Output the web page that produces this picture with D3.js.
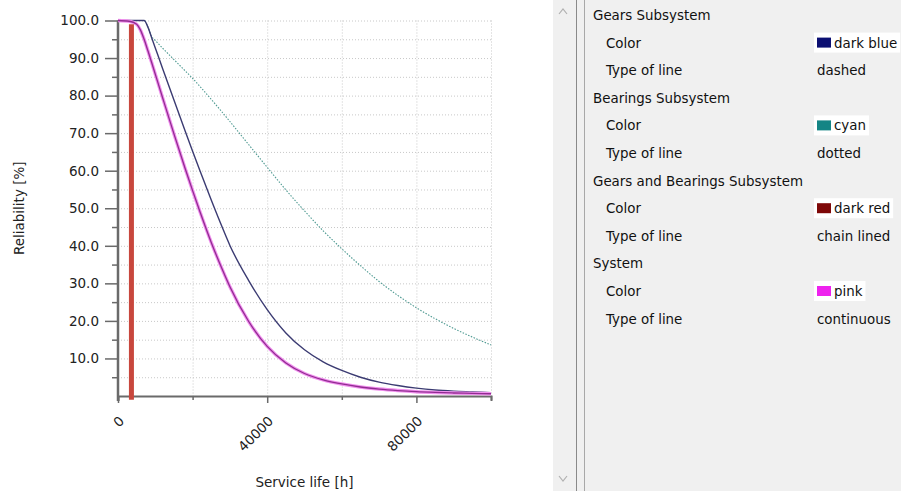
<!DOCTYPE html>
<html>
<head>
<meta charset="utf-8">
<script src="https://cdn.jsdelivr.net/npm/d3@7"></script>
<style>
  body { margin: 0; background: #fff; }
  svg { display: block; font-family: "DejaVu Sans", Verdana, sans-serif; }
</style>
</head>
<body>
<svg id="chart" width="901" height="491"></svg>
<script>
// service life [h] shared by all curves
const serviceLife = [0, 3000, 5000, 6000, 7000, 8000, 9000, 10000, 12000, 15000, 18000, 20000, 22000, 25000, 28000, 30000,
  35000, 40000, 45000, 50000, 55000, 60000, 65000, 70000, 75000, 80000, 85000, 90000, 95000, 100000];

// reliability [%]
const gearsR = [100, 100, 100, 100, 100, 98.3, 95.5, 92.7, 87.1, 78.8, 70.6, 65.2, 59.9, 52.2, 44.8, 40.1,
  30.8, 23, 16.8, 12.3, 9.1, 6.8, 5, 3.7, 2.8, 2.1, 1.6, 1.3, 1.1, 0.9];
const bearingsR = [100, 100, 100, 100, 100, 98.3, 95.8, 94.7, 92.6, 89.6, 86.6, 84.6, 82.4, 79, 75.5, 73.1,
  67, 60.9, 54.9, 49.3, 44, 39.2, 34.7, 30.5, 26.8, 23.5, 20.6, 18, 15.7, 13.6];
const systemR = [100, 99.8, 99, 97.5, 95, 92, 88.9, 85.7, 79.3, 69.8, 60.6, 54.7, 49, 40.9, 33.6, 29.1,
  19.9, 13.2, 8.8, 6, 4.3, 3.2, 2.4, 1.85, 1.45, 1.15, 0.95, 0.8, 0.7, 0.6];
// gears and bearings subsystem shows as a vertical bar
const gearsBearingsLife = [3600, 3600];
const gearsBearingsR = [-1, 99];

const xTicks = [0, 20000, 40000, 60000, 80000, 100000];
const xLabels = [0, 40000, 80000];

// property grid on the right
const groups = ['Gears Subsystem', 'Bearings Subsystem', 'Gears and Bearings Subsystem', 'System'];
const colorNames = ['dark blue', 'cyan', 'dark red', 'pink'];
const swatchColors = ['#0b0f72', '#148585', '#7e0808', '#ee22ee'];
const lineTypes = ['dashed', 'dotted', 'chain lined', 'continuous'];

const svg = d3.select('#chart');

const x = d3.scaleLinear().domain([0, 100000]).range([118, 491]);
const y = d3.scaleLinear().domain([0, 100]).range([396, 20.5]);

// grid
const grid = svg.append('g').attr('stroke', '#c8c8c8').attr('stroke-dasharray', '1,2');
grid.selectAll('.hg').data(d3.range(5, 101, 5)).enter().append('line')
  .attr('x1', x(0)).attr('x2', x(100000))
  .attr('y1', d => y(d) + 0.5).attr('y2', d => y(d) + 0.5);
grid.selectAll('.vg').data(xTicks.slice(1)).enter().append('line')
  .attr('x1', d => x(d) + 0.5).attr('x2', d => x(d) + 0.5)
  .attr('y1', y(100)).attr('y2', y(0));

// axes
const xAxis = svg.append('g').attr('transform', `translate(0,${y(0)})`)
  .call(d3.axisBottom(x).tickValues(xTicks).tickSize(5).tickFormat(''));
xAxis.select('.domain').attr('stroke', '#6a6a6a').attr('stroke-width', 2);
xAxis.selectAll('.tick line').attr('stroke', '#6a6a6a').attr('stroke-width', 1.5)
  .attr('y2', d => xLabels.includes(d) ? 7 : 4);

const yAxis = svg.append('g').attr('transform', `translate(${x(0)},0)`)
  .call(d3.axisLeft(y).tickValues(d3.range(5, 101, 5)).tickSize(12).tickSizeOuter(0)
    .tickFormat(d => d % 10 === 0 ? d.toFixed(1) : ''));
yAxis.select('.domain').attr('stroke', '#6a6a6a').attr('stroke-width', 2.5)
  .attr('d', `M0,${y(100)}V${y(0) + 5}`);
yAxis.selectAll('.tick line').attr('stroke', '#6a6a6a').attr('stroke-width', 1.5)
  .attr('x2', d => d % 10 === 0 ? -13 : -6);
yAxis.selectAll('.tick text').attr('x', -19).attr('font-size', 13.5)
  .attr('fill', '#222').attr('font-family', '"DejaVu Sans", Verdana, sans-serif');

// rotated x labels
svg.append('g').selectAll('text').data(xLabels).enter().append('text')
  .attr('transform', d => `translate(${x(d) + 7},${y(0) + 26}) rotate(-45)`)
  .attr('text-anchor', 'end')
  .attr('font-size', 13.5).attr('fill', '#222')
  .text(d => d);

svg.append('text').attr('x', (x(0) + x(100000)) / 2).attr('y', 487)
  .attr('text-anchor', 'middle').attr('font-size', 13.5).attr('fill', '#222')
  .text('Service life [h]');
svg.append('text').attr('transform', `translate(24,${(y(0) + y(100)) / 2}) rotate(-90)`)
  .attr('text-anchor', 'middle').attr('font-size', 13.5).attr('fill', '#222')
  .text('Reliability [%]');

// curves
const line = d3.line().x(d => x(d[0])).y(d => y(d[1])).curve(d3.curveMonotoneX);
const zip = (ts, rs) => ts.map((t, i) => [t, rs[i]]);

svg.append('path').datum(zip(serviceLife, bearingsR)).attr('d', line)
  .attr('fill', 'none').attr('stroke', '#4f9a92').attr('stroke-width', 1.1).attr('stroke-dasharray', '1.5,1.5');
svg.append('path').datum(zip(serviceLife, gearsR)).attr('d', line)
  .attr('fill', 'none').attr('stroke', '#3b3b72').attr('stroke-width', 1.4);
svg.append('path').datum(zip(serviceLife, systemR)).attr('d', line)
  .attr('fill', 'none').attr('stroke', '#f090ee').attr('stroke-width', 3.4);
svg.append('path').datum(zip(serviceLife, systemR)).attr('d', line)
  .attr('fill', 'none').attr('stroke', '#922c92').attr('stroke-width', 1.3);
svg.append('path').datum(zip(gearsBearingsLife, gearsBearingsR)).attr('d', d3.line().x(d => x(d[0])).y(d => y(d[1])))
  .attr('fill', 'none').attr('stroke', '#c8473d').attr('stroke-width', 5);

// property panel
const panelX = 553;
svg.append('rect').attr('x', panelX).attr('y', 0).attr('width', 901 - panelX).attr('height', 491).attr('fill', '#f0f0f0');
svg.append('line').attr('x1', 576.5).attr('x2', 576.5).attr('y1', 0).attr('y2', 491).attr('stroke', '#8a8a8a');
svg.append('line').attr('x1', 584.5).attr('x2', 584.5).attr('y1', 0).attr('y2', 491).attr('stroke', '#a8a8a8');
svg.append('path').attr('d', 'M559,14 L563,9 L567,14').attr('fill', 'none').attr('stroke', '#b0b0b0').attr('stroke-width', 1.2);
svg.append('path').attr('d', 'M559,476 L563,481 L567,476').attr('fill', 'none').attr('stroke', '#b0b0b0').attr('stroke-width', 1.2);

const rowH = 27.6;
const panel = svg.append('g').attr('font-size', 13.4).attr('fill', '#111');
groups.forEach((g, i) => {
  const top = 15 + i * 3 * rowH;
  panel.append('text').attr('x', 593).attr('y', top + 5).text(g);
  panel.append('text').attr('x', 606).attr('y', top + rowH + 5).text('Color');
  panel.append('text').attr('x', 606).attr('y', top + 2 * rowH + 5).text('Type of line');
  const cy = top + rowH;
  const label = panel.append('text').attr('x', 834).attr('y', cy + 5).text(colorNames[i]);
  const w = label.node().getComputedTextLength();
  panel.insert('rect', 'text').attr('x', 814).attr('y', cy - 10).attr('width', w + 23).attr('height', 20).attr('fill', '#fff');
  panel.append('rect').attr('x', 817).attr('y', cy - 5).attr('width', 14).attr('height', 10).attr('fill', swatchColors[i]);
  panel.append('text').attr('x', 817).attr('y', top + 2 * rowH + 5).text(lineTypes[i]);
});
</script>
</body>
</html>
